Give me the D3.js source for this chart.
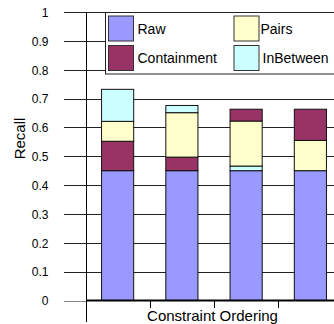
<!DOCTYPE html>
<html><head><meta charset="utf-8">
<script src="https://cdn.jsdelivr.net/npm/d3@7"></script>
<style>html,body{margin:0;padding:0;background:#fff;overflow:hidden}svg{display:block}text{font-family:Arial,"Liberation Sans",sans-serif;fill:#000}</style>
</head><body>
<svg id="c" width="334" height="324"></svg>
<script>
// ---- data ----
const categories = ["C1", "C2", "C3", "C4"];
const seriesNames = ["Raw", "Containment", "Pairs", "InBetween"];
const raw         = [0.450, 0.450, 0.450, 0.450];
const containment = [0.102, 0.047, 0.041, 0.108];
const pairs       = [0.069, 0.154, 0.156, 0.105];
const inBetween   = [0.111, 0.025, 0.016, 0.000];
// stacking order of segments in each bar (bottom to top)
const stackOrder = [
  ["Raw", "Containment", "Pairs", "InBetween"],
  ["Raw", "Containment", "Pairs", "InBetween"],
  ["Raw", "InBetween", "Pairs", "Containment"],
  ["Raw", "Pairs", "Containment", "InBetween"]
];
const yTicks = [0, 0.1, 0.2, 0.3, 0.4, 0.5, 0.6, 0.7, 0.8, 0.9, 1];
const yTitle = "Recall";
const xTitle = "Constraint Ordering";

const valuesBySeries = {Raw: raw, Containment: containment, Pairs: pairs, InBetween: inBetween};
const colors = {Raw: "#9999FF", Containment: "#993366", Pairs: "#FFFFCC", InBetween: "#CCFFFF"};

const svg = d3.select("#c");
const x = d3.scaleBand().domain(categories).range([85.5, 342.5]).paddingInner(0.5).paddingOuter(0.25);
const y = d3.scaleLinear().domain([0, 1]).range([300.5, 12]);

// gridlines
const grid = svg.append("g");
yTicks.forEach(t => {
  const yy = Math.round(y(t)) + 0.5;
  grid.append("line").attr("x1", 64).attr("x2", t === 0 ? 86 : 345)
    .attr("y1", yy).attr("y2", yy)
    .attr("stroke", t === 0 ? "#888" : "#222").attr("stroke-width", 1);
});

// y axis labels
const yAxis = d3.axisLeft(y).tickValues(yTicks).tickFormat(d3.format(".1~f")).tickSize(0).tickPadding(0);
const ga = svg.append("g").attr("transform", "translate(48.5,0)").call(yAxis);
ga.select(".domain").remove();
ga.selectAll("text").attr("font-size", "12px").attr("font-family", "Arial, 'Liberation Sans', sans-serif").attr("fill", "#000").attr("dy", "0.36em");

// bars
const bars = svg.append("g");
categories.forEach((c, i) => {
  let acc = 0;
  stackOrder[i].forEach(s => {
    const v = valuesBySeries[s][i];
    if (v <= 0) { return; }
    const y0 = y(acc), y1 = y(acc + v);
    bars.append("rect")
      .attr("x", x(c)).attr("width", x.bandwidth())
      .attr("y", y1).attr("height", y0 - y1)
      .attr("fill", colors[s]).attr("stroke", "#111").attr("stroke-width", 1);
    acc += v;
  });
});

// axes lines
svg.append("line").attr("x1", 86.5).attr("x2", 86.5).attr("y1", 12).attr("y2", 322).attr("stroke", "#000").attr("stroke-width", 1);
svg.append("line").attr("x1", 86).attr("x2", 345).attr("y1", y(0)).attr("y2", y(0)).attr("stroke", "#000").attr("stroke-width", 2);
// category ticks at band boundaries
const step = x.step();
categories.forEach((c, i) => {
  if (i === 0) return;
  const xx = Math.round(x(c) - (step - x.bandwidth()) / 2) + 0.5;
  svg.append("line").attr("x1", xx).attr("x2", xx).attr("y1", y(0)).attr("y2", 308).attr("stroke", "#000").attr("stroke-width", 1);
});

// titles
svg.append("text").attr("x", 212.5).attr("y", 321).attr("text-anchor", "middle").attr("font-size", "15px").text(xTitle);
svg.append("text").attr("transform", "translate(25,138.5) rotate(-90)").attr("text-anchor", "middle").attr("font-size", "15px").text(yTitle);

// legend
const lg = svg.append("g");
lg.append("rect").attr("x", 105.5).attr("y", 12.5).attr("width", 260).attr("height", 61.5).attr("fill", "#fff").attr("stroke", "#222");
const legendPos = {Raw: [108, 15.5], Containment: [108, 45], Pairs: [233.5, 15.5], InBetween: [233.5, 45]};
seriesNames.forEach(s => {
  const [lx, ly] = legendPos[s];
  lg.append("rect").attr("x", lx + 0.5).attr("y", ly + 0.5).attr("width", 25).attr("height", 25)
    .attr("fill", colors[s]).attr("stroke", "#333");
  lg.append("text").attr("x", lx + (s === "Pairs" ? 27 : s === "InBetween" ? 29 : 29.5)).attr("y", ly + 13)
    .attr("dy", "0.36em").attr("font-size", "14px").text(s);
});
</script>
</body></html>
